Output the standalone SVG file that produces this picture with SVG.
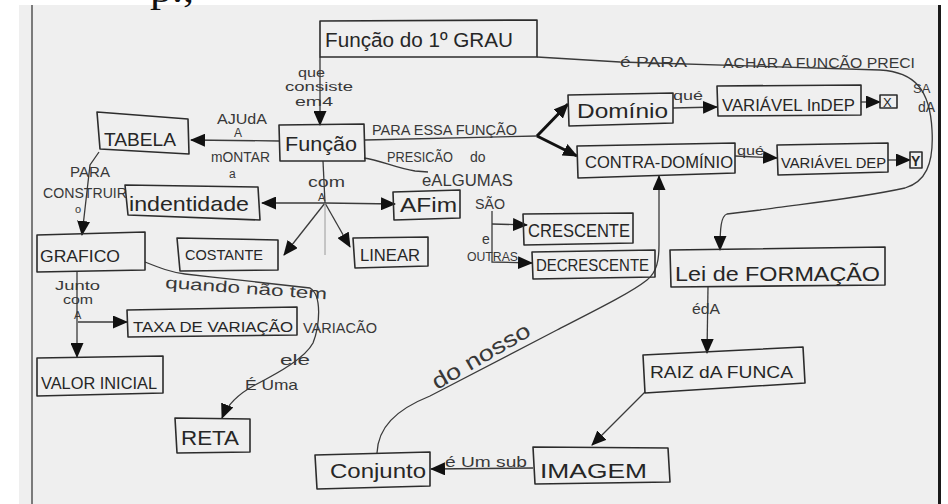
<svg xmlns="http://www.w3.org/2000/svg" width="948" height="504" viewBox="0 0 948 504">
  <style>
    .bx { fill: none; stroke: #2c2c2c; stroke-width: 1.6; stroke-linejoin: round; }
    .ln { fill: none; stroke: #3a3a3a; stroke-width: 1.3; }
    .thk { fill: none; stroke: #111; stroke-width: 3; }
    .arr { marker-end: url(#ah); }
    .t { font-family: "Liberation Sans", Arial, sans-serif; fill: #262626; }
    .lb { font-family: "Liberation Sans", Arial, sans-serif; fill: #383838; }
  </style>
  <defs>
    <marker id="ah" viewBox="0 0 15 13" refX="14" refY="6.5" markerWidth="15" markerHeight="13" markerUnits="userSpaceOnUse" orient="auto">
      <path d="M0,0 L15,6.5 L0,13 z" fill="#111"/>
    </marker>
  </defs>

  <!-- sheet -->
  <rect x="0" y="0" width="948" height="504" fill="#ffffff"/>
  <rect x="19" y="5" width="922" height="499" fill="#efefef"/>
  <line x1="32" y1="5" x2="32" y2="504" stroke="#555" stroke-width="1.5"/>
  <line x1="939.5" y1="5" x2="939.5" y2="504" stroke="#1a1a1a" stroke-width="3"/>
  <text x="150" y="2" font-family="Liberation Serif, serif" font-size="36" fill="#111" textLength="44" lengthAdjust="spacingAndGlyphs">p.,</text>

  <!-- connectors -->
  <g id="connectors">
    <path class="ln arr" d="M320,57 L320,125"/>
    <path class="ln arr" d="M279,141 L191,140"/>
    <path class="ln arr" d="M99,152 L90,165 L82,235"/>
    <path class="ln" d="M365,140 L537,136"/>
    <path class="thk arr" d="M537,136 L568,104"/>
    <path class="thk arr" d="M537,136 L577,156"/>
    <path class="ln" d="M364,158 C380,160 395,168 415,171 L428,172"/>
    <path class="ln arr" d="M492,224 L527,225"/>
    <path class="ln arr" d="M492,211 L492,262 L532,263"/>
    <path class="ln" d="M323,161 L325,203"/>
    <path class="ln arr" d="M325,203 L262,203"/>
    <path class="ln arr" d="M325,203 L395,204"/>
    <path class="ln arr" d="M325,203 L284,255"/>
    <path class="ln arr" d="M325,203 L350,247"/>
    <path d="M325,203 L325,255" stroke="#9a9a9a" stroke-width="1" fill="none"/>
    <path class="ln arr" d="M673,108 L717,107"/>
    <path class="ln arr" d="M861,102 L880,102"/>
    <path class="ln arr" d="M735,156 L777,158"/>
    <path class="ln arr" d="M888,160 L910,160"/>
    <path class="ln arr" d="M537,57 L620,62 L880,70 C915,72 930,90 932,130 C934,165 925,182 905,188 C850,200 790,205 760,210 L727,214 C721,216 720,228 720,250"/>
    <path class="ln arr" d="M708,287 L707,353"/>
    <path class="ln arr" d="M645,392 L592,445"/>
    <path class="ln arr" d="M533,468 L431,469"/>
    <path class="ln arr" d="M377,453 C378,428 395,410 430,396 L557,330 C600,308 632,292 647,280 C657,272 659,260 659,245 L659,176"/>
    <path class="ln arr" d="M77,272 L77,357"/>
    <path class="ln arr" d="M78,322 L127,322"/>
    <path class="ln arr" d="M145,262 C160,268 170,272 185,274 C230,279 280,285 310,288 C322,295 320,325 313,343 C305,358 280,372 255,385 C240,393 228,403 222,418"/>
  </g>

  <!-- connector labels -->
  <g id="labels">
    <text class="lb" x="298" y="77" font-size="13" textLength="27" lengthAdjust="spacingAndGlyphs">que</text>
    <text class="lb" x="285" y="91" font-size="13" textLength="68" lengthAdjust="spacingAndGlyphs">consiste</text>
    <text class="lb" x="295" y="106" font-size="13" textLength="38" lengthAdjust="spacingAndGlyphs">em4</text>
    <text class="lb" x="217" y="124" font-size="14" textLength="50" lengthAdjust="spacingAndGlyphs">AJUdA</text>
    <text class="lb" x="234" y="137" font-size="12">A</text>
    <text class="lb" x="211" y="162" font-size="14" textLength="59" lengthAdjust="spacingAndGlyphs">mONTAR</text>
    <text class="lb" x="229" y="178" font-size="12">a</text>
    <text class="lb" x="372" y="135" font-size="14" textLength="145" lengthAdjust="spacingAndGlyphs">PARA ESSA FUNÇÃO</text>
    <text class="lb" x="387" y="162" font-size="14" textLength="66" lengthAdjust="spacingAndGlyphs">PRESICÃO</text>
    <text class="lb" x="470" y="162" font-size="14">do</text>
    <text class="lb" x="422" y="186" font-size="16" textLength="91" lengthAdjust="spacingAndGlyphs">eALGUMAS</text>
    <text class="lb" x="475" y="209" font-size="14" textLength="30" lengthAdjust="spacingAndGlyphs">SÃO</text>
    <text class="lb" x="482" y="244" font-size="14">e</text>
    <text class="lb" x="467" y="261" font-size="13" textLength="51" lengthAdjust="spacingAndGlyphs">OUTRAS</text>
    <text class="lb" x="673" y="100" font-size="13" textLength="30" lengthAdjust="spacingAndGlyphs">qué</text>
    <text class="lb" x="737" y="155" font-size="13" textLength="27" lengthAdjust="spacingAndGlyphs">qué</text>
    <text class="lb" x="620" y="67" font-size="14" textLength="67" lengthAdjust="spacingAndGlyphs">é PARA</text>
    <text class="lb" x="723" y="68" font-size="15" textLength="192" lengthAdjust="spacingAndGlyphs">ACHAR A FUNCÃO PRECI</text>
    <text class="lb" x="913" y="93" font-size="13">SA</text>
    <text class="lb" x="918" y="112" font-size="14">dA</text>
    <text class="lb" x="692" y="314" font-size="15" textLength="28" lengthAdjust="spacingAndGlyphs">édA</text>
    <text class="lb" x="445" y="467" font-size="15" textLength="82" lengthAdjust="spacingAndGlyphs">é Um sub</text>
    <text class="lb" x="437" y="390" font-size="22" textLength="110" lengthAdjust="spacingAndGlyphs" transform="rotate(-30 437 390)">do nosso</text>
    <text class="lb" x="70" y="177" font-size="14" textLength="40" lengthAdjust="spacingAndGlyphs">PARA</text>
    <text class="lb" x="43" y="198" font-size="14" textLength="84" lengthAdjust="spacingAndGlyphs">CONSTRUIR</text>
    <text class="lb" x="75" y="213" font-size="11">o</text>
    <text class="lb" x="308" y="187" font-size="15" textLength="37" lengthAdjust="spacingAndGlyphs">com</text>
    <text class="lb" x="318" y="201" font-size="11">A</text>
    <text class="lb" x="55" y="290" font-size="13" textLength="45" lengthAdjust="spacingAndGlyphs">Junto</text>
    <text class="lb" x="63" y="304" font-size="12" textLength="30" lengthAdjust="spacingAndGlyphs">com</text>
    <text class="lb" x="74" y="319" font-size="11">A</text>
    <text class="lb" x="165" y="288" font-size="16" textLength="162" lengthAdjust="spacingAndGlyphs" transform="rotate(4 165 288)">quando não tem</text>
    <text class="lb" x="303" y="333" font-size="14" textLength="74" lengthAdjust="spacingAndGlyphs">VARIACÃO</text>
    <text class="lb" x="280" y="365" font-size="14" textLength="30" lengthAdjust="spacingAndGlyphs">ele</text>
    <text class="lb" x="245" y="390" font-size="15" textLength="53" lengthAdjust="spacingAndGlyphs">É Uma</text>
  </g>

  <!-- concept boxes -->
  <g id="n-grau"><polygon class="bx" points="320,21 537,20 537,57 320,57"/><text class="t" x="325" y="47" font-size="20" textLength="188" lengthAdjust="spacingAndGlyphs">Função do 1º GRAU</text></g>
  <g id="n-funcao"><polygon class="bx" points="279,125 364,124 365,161 280,161"/><text class="t" x="285" y="151" font-size="21" textLength="72" lengthAdjust="spacingAndGlyphs">Função</text></g>
  <g id="n-tabela"><polygon class="bx" points="97,112 188,119 189,154 100,149"/><text class="t" x="104" y="146" font-size="19" textLength="72" lengthAdjust="spacingAndGlyphs">TABELA</text></g>
  <g id="n-identidade"><polygon class="bx" points="125,185 258,187 260,220 128,215"/><text class="t" x="129" y="211" font-size="21" textLength="120" lengthAdjust="spacingAndGlyphs">indentidade</text></g>
  <g id="n-grafico"><polygon class="bx" points="37,235 145,232 145,270 37,272"/><text class="t" x="40" y="262" font-size="17" textLength="80" lengthAdjust="spacingAndGlyphs">GRAFICO</text></g>
  <g id="n-costante"><polygon class="bx" points="177,238 278,240 278,270 180,271"/><text class="t" x="185" y="260" font-size="15" textLength="78" lengthAdjust="spacingAndGlyphs">COSTANTE</text></g>
  <g id="n-afim"><polygon class="bx" points="393,192 460,190 460,218 394,220"/><text class="t" x="400" y="212" font-size="20" textLength="57" lengthAdjust="spacingAndGlyphs">AFim</text></g>
  <g id="n-linear"><polygon class="bx" points="353,238 428,237 428,266 355,268"/><text class="t" x="360" y="261" font-size="16" textLength="60" lengthAdjust="spacingAndGlyphs">LINEAR</text></g>
  <g id="n-crescente"><polygon class="bx" points="523,214 633,213 633,243 524,245"/><text class="t" x="528" y="237" font-size="18" textLength="102" lengthAdjust="spacingAndGlyphs">CRESCENTE</text></g>
  <g id="n-decrescente"><polygon class="bx" points="532,252 655,250 655,277 533,279"/><text class="t" x="536" y="271" font-size="17" textLength="113" lengthAdjust="spacingAndGlyphs">DECRESCENTE</text></g>
  <g id="n-dominio"><polygon class="bx" points="568,95 673,93 673,123 569,126"/><text class="t" x="577" y="118" font-size="20" textLength="91" lengthAdjust="spacingAndGlyphs">Domínio</text></g>
  <g id="n-var-indep"><polygon class="bx" points="717,86 861,85 861,115 718,116"/><text class="t" x="722" y="111" font-size="16" textLength="133" lengthAdjust="spacingAndGlyphs">VARIÁVEL InDEP</text></g>
  <g id="n-x"><polygon class="bx" points="880,95 897,95 897,108 880,108"/><text class="t" x="883" y="107" font-size="13">X</text></g>
  <g id="n-contradominio"><polygon class="bx" points="577,146 735,143 735,173 578,178"/><text class="t" x="585" y="168" font-size="17" textLength="148" lengthAdjust="spacingAndGlyphs">CONTRA-DOMÍNIO</text></g>
  <g id="n-var-dep"><polygon class="bx" points="777,145 888,143 888,172 778,175"/><text class="t" x="781" y="168" font-size="15" textLength="105" lengthAdjust="spacingAndGlyphs">VARIÁVEL DEP</text></g>
  <g id="n-y"><polygon class="bx" points="910,152 922,152 922,168 910,168"/><text class="t" x="911" y="166" font-size="14" font-weight="bold">Y</text></g>
  <g id="n-lei"><polygon class="bx" points="670,250 885,247 885,285 671,287"/><text class="t" x="675" y="281" font-size="21" textLength="205" lengthAdjust="spacingAndGlyphs">Lei de FORMAÇÃO</text></g>
  <g id="n-raiz"><polygon class="bx" points="643,355 803,347 805,383 645,393"/><text class="t" x="650" y="378" font-size="17" textLength="143" lengthAdjust="spacingAndGlyphs">RAIZ dA FUNCA</text></g>
  <g id="n-imagem"><polygon class="bx" points="533,447 668,448 670,482 535,484"/><text class="t" x="540" y="478" font-size="20" textLength="107" lengthAdjust="spacingAndGlyphs">IMAGEM</text></g>
  <g id="n-conjunto"><polygon class="bx" points="315,455 430,452 430,486 317,489"/><text class="t" x="330" y="478" font-size="20" textLength="96" lengthAdjust="spacingAndGlyphs">Conjunto</text></g>
  <g id="n-taxa"><polygon class="bx" points="127,310 297,307 297,335 128,337"/><text class="t" x="133" y="332" font-size="15" textLength="160" lengthAdjust="spacingAndGlyphs">TAXA DE VARIAÇÃO</text></g>
  <g id="n-valor"><polygon class="bx" points="37,358 163,356 163,393 37,396"/><text class="t" x="41" y="389" font-size="16" textLength="116" lengthAdjust="spacingAndGlyphs">VALOR INICIAL</text></g>
  <g id="n-reta"><polygon class="bx" points="175,418 250,419 250,452 177,453"/><text class="t" x="181" y="445" font-size="20" textLength="58" lengthAdjust="spacingAndGlyphs">RETA</text></g>
</svg>
